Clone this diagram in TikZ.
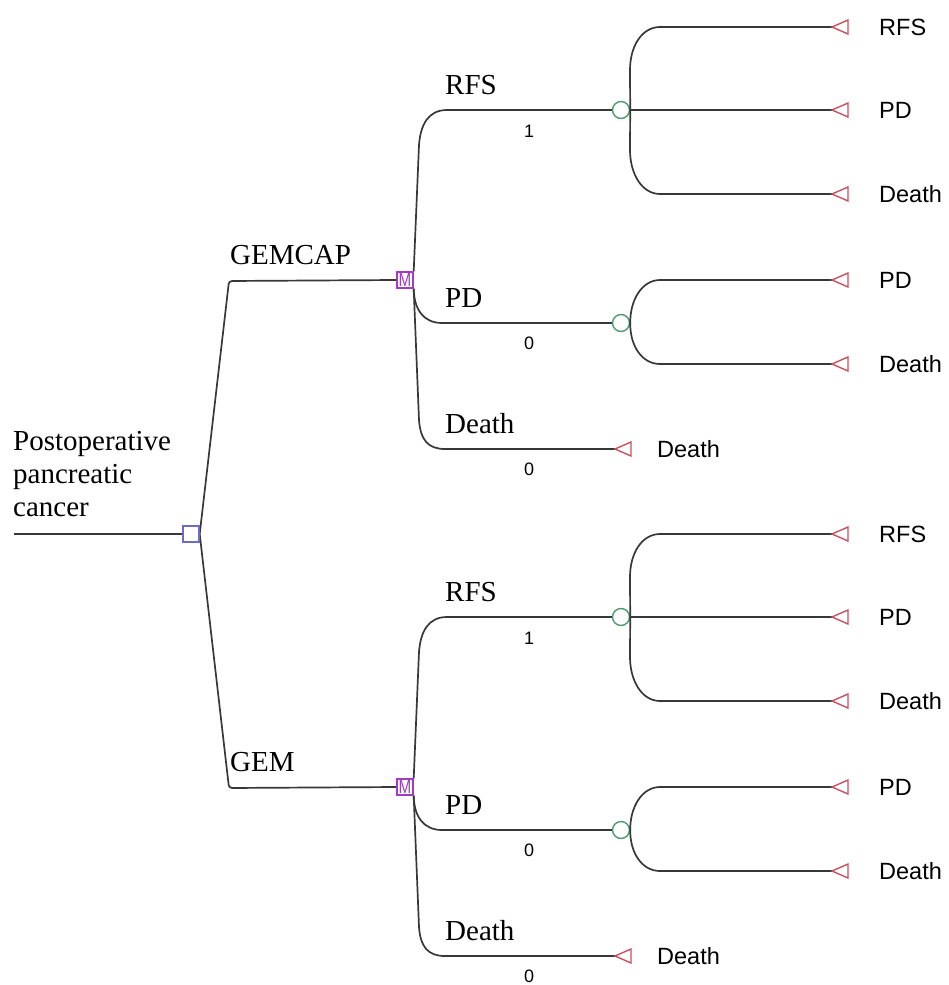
\documentclass[tikz,border=0pt]{standalone}
\usepackage{fontspec}
\setmainfont{Liberation Serif}
\newfontfamily\arialf{Liberation Sans}
\definecolor{linec}{HTML}{383838}
\definecolor{decc}{HTML}{6B6BC8}
\definecolor{mkc}{HTML}{A23BC4}
\definecolor{chc}{HTML}{4C9A6E}
\definecolor{termc}{HTML}{C8505F}
\begin{document}
\begin{tikzpicture}[x=1pt,y=-1pt,
  br/.style={draw=linec, line width=1.7pt},
  lbl/.style={font=\fontsize{29}{33}\selectfont, anchor=base west, inner sep=0},
  prob/.style={font=\arialf\fontsize{18}{20}\selectfont, inner sep=0},
  tlbl/.style={font=\arialf\fontsize{23.5}{26}\selectfont, anchor=base west, inner sep=0},
  dec/.style={rectangle, draw=decc, fill=white, line width=1.4pt, minimum size=16pt, inner sep=0},
  markov/.style={rectangle, draw=mkc, text=mkc, fill=white, line width=1.4pt, minimum width=16pt, minimum height=16pt, inner sep=0, font=\arialf\fontsize{19}{19}\selectfont},
  chn/.style={circle, draw=chc, fill=white, line width=1.4pt, minimum size=17pt, inner sep=0},
  term/.style={draw=termc, fill=white, line width=1.4pt, line join=miter}
]
\useasboundingbox (0,0) rectangle (948,985);

% root
\node[lbl, anchor=south west, align=left] (rt) at (13,517) {Postoperative\\pancreatic\\cancer};
\coordinate (R) at (14,534);
\node[dec] (D) at (191,534) {};
\draw[br] (R) -- (D.west);

\foreach \o/\g/\s in {0/1/GEMCAP, 507/2/GEM} {
  % markov node
  \node[markov] (M\g) at (405,280+\o) {\scalebox{0.8}[1]{M}};
  \draw[br, rounded corners=3pt] (D.east) -- (229,281+\o) -- (M\g.west);
  \node[lbl] (S\g) at (230,264+\o) {\s};

  % chance nodes
  \node[chn] (Ca\g) at (621,110+\o) {};
  \node[chn] (Cb\g) at (621,323+\o) {};

  % RFS branch
  \draw[br] (M\g.north east) -- (419,145+\o) .. controls (420.5,125+\o) and (428,110+\o) .. (447,110+\o) -- (Ca\g.west);
  \node[lbl] (Lr\g) at (445,94+\o) {RFS};
  \node[prob] (Pr\g) at (529,131+\o) {1};

  % PD branch
  \draw[br] (M\g.south east) .. controls (414,310+\o) and (424,323+\o) .. (442,323+\o) -- (Cb\g.west);
  \node[lbl] (Lp\g) at (445,307+\o) {PD};
  \node[prob] (Pp\g) at (529,343+\o) {0};

  % Death branch
  \coordinate (Td\g) at (615,449+\o);
  \draw[br] (M\g.south east) -- (419,420+\o) .. controls (420.5,440+\o) and (428,449+\o) .. (445,449+\o) -- (Td\g);
  \draw[term] (Td\g) -- ++(16,-7) -- ++(0,14) -- cycle;
  \node[lbl] (Ld\g) at (445,433+\o) {Death};
  \node[prob] (Pd\g) at (529,469+\o) {0};
  \node[tlbl] (Ed\g) at (657,457+\o) {Death};

  % terminals of RFS chance node
  \coordinate (Ta\g) at (832,27+\o);
  \coordinate (Tb\g) at (832,110+\o);
  \coordinate (Tc\g) at (832,194+\o);
  \draw[br] (Ca\g.east) -- (630,70+\o) .. controls (630,46+\o) and (642,27+\o) .. (660,27+\o) -- (Ta\g);
  \draw[br] (Ca\g.east) -- (Tb\g);
  \draw[br] (Ca\g.east) -- (630,150+\o) .. controls (630,174+\o) and (642,194+\o) .. (660,194+\o) -- (Tc\g);
  \foreach \t in {Ta,Tb,Tc} \draw[term] (\t\g) -- ++(16,-7) -- ++(0,14) -- cycle;
  \node[tlbl] (Ea\g) at (879,35+\o) {RFS};
  \node[tlbl] (Eb\g) at (879,118+\o) {PD};
  \node[tlbl] (Ec\g) at (879,202+\o) {Death};

  % terminals of PD chance node
  \coordinate (Tp\g) at (832,280+\o);
  \coordinate (Tq\g) at (832,364+\o);
  \draw[br] (Cb\g.east) .. controls (630,300+\o) and (642,280+\o) .. (660,280+\o) -- (Tp\g);
  \draw[br] (Cb\g.east) .. controls (630,346+\o) and (642,364+\o) .. (660,364+\o) -- (Tq\g);
  \foreach \t in {Tp,Tq} \draw[term] (\t\g) -- ++(16,-7) -- ++(0,14) -- cycle;
  \node[tlbl] (Ep\g) at (879,288+\o) {PD};
  \node[tlbl] (Eq\g) at (879,372+\o) {Death};
}
% redraw nodes on top of lines
\node[dec] at (D) {};
\node[markov] at (M1) {\scalebox{0.8}[1]{M}};
\node[markov] at (M2) {\scalebox{0.8}[1]{M}};
\end{tikzpicture}
\end{document}
